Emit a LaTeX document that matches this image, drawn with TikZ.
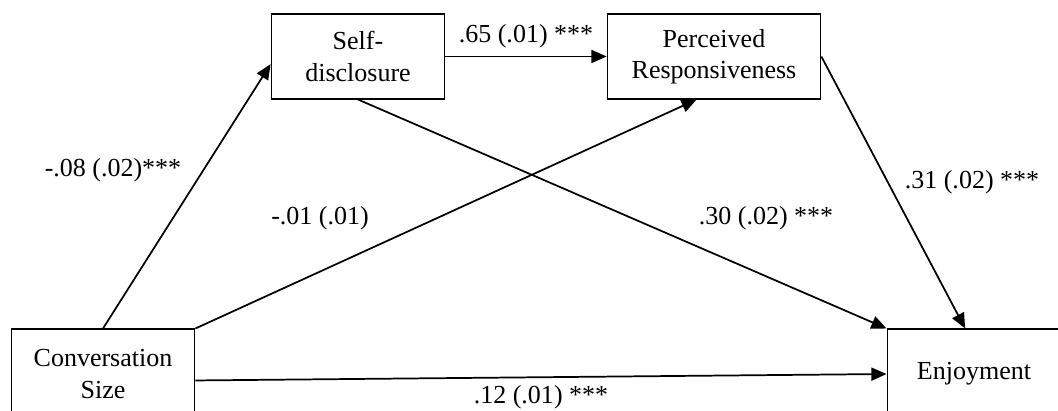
\documentclass[tikz,border=0pt]{standalone}
\usepackage{fontspec}
\setmainfont{Liberation Serif}
\usepackage{tikz}
\usetikzlibrary{arrows.meta, calc, positioning}

\begin{document}
\begin{tikzpicture}[>={Triangle[length=7pt, width=6pt]}, x=0.1622mm, y=-0.1622mm,
    varbox/.style={draw, line width=0.5pt, align=center, inner sep=0pt,
        font=\fontsize{12}{14.5}\selectfont},
    coef/.style={font=\fontsize{12}{14.5}\selectfont, inner sep=1pt},
    path/.style={->, line width=0.8pt}]

\useasboundingbox (0,0) rectangle (1058,411);
\clip (0,0) rectangle (1058,411);

% ============================================================
% Variables
% ============================================================

\node[varbox, minimum width=80.2pt, minimum height=39.2pt] (sd)  at (358, 56.5)
    {Self-\\disclosure};
\node[varbox, minimum width=98.6pt, minimum height=39.2pt] (pr)  at (714, 56.5)
    {Perceived\\Responsiveness};
\node[varbox, minimum width=84.8pt, minimum height=41.5pt] (cs)  at (103, 374)
    {Conversation\\Size};
\node[varbox, minimum width=80.2pt, minimum height=41.5pt] (enj) at (974, 374)
    {Enjoyment};

% ============================================================
% Paths
% ============================================================

\draw[path] (cs.north)      -- (sd.185);
\draw[path] (cs.north east) -- (pr.248);
\draw[path] (sd.east)       -- (pr.west);
\draw[path] (sd.south)      -- (enj.north west);
\draw[path] (pr.east)       -- (enj.101);
\draw[path] (cs.356)        -- (enj.west);

% ============================================================
% Coefficients
% ============================================================

\node[coef] (c1) at (113, 170) {-.08 (.02)***};
\node[coef] (c2) at (526,  36) {.65 (.01) ***};
\node[coef] (c3) at (972, 182) {.31 (.02) ***};
\node[coef] (c4) at (766, 218) {.30 (.02) ***};
\node[coef] (c5) at (320, 218) {-.01 (.01)};
\node[coef] (c6) at (541, 397) {.12 (.01) ***};

\end{tikzpicture}
\end{document}
